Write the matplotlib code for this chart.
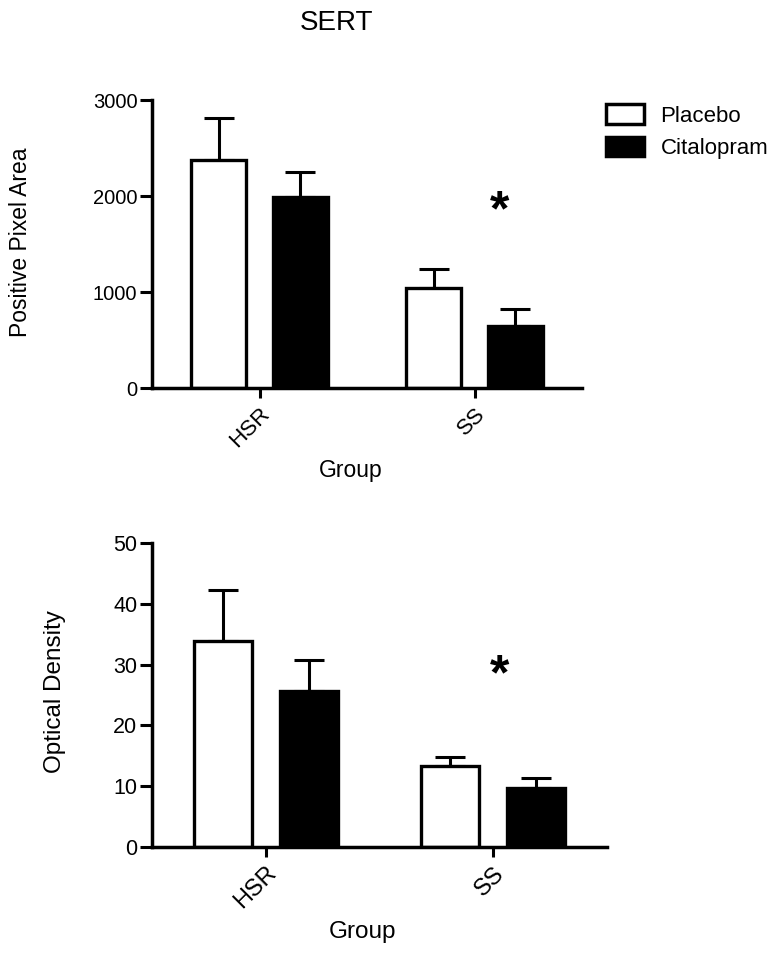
import matplotlib
matplotlib.use("Agg")
import matplotlib.pyplot as plt
from matplotlib.patches import Patch
import numpy as np

plt.rcParams['font.family'] = ['Liberation Sans', 'DejaVu Sans']

groups = ["HSR", "SS"]
series = ["Placebo", "Citalopram"]
area_mean = {"Placebo": [2375, 1045], "Citalopram": [1993, 649]}
area_err = {"Placebo": [440, 195], "Citalopram": [254, 171]}
od_mean = {"Placebo": [33.8, 13.3], "Citalopram": [25.7, 9.75]}
od_err = {"Placebo": [8.5, 1.5], "Citalopram": [5.1, 1.65]}

W, H = 783, 957
fig = plt.figure(figsize=(W / 100, H / 100), dpi=100)

def fx(px):
    return px / W

def fy(py):
    return 1 - py / H

ax1 = fig.add_axes([fx(152), fy(388), fx(582) - fx(152), fy(100) - fy(388)])
ax2 = fig.add_axes([fx(152), fy(847), fx(607) - fx(152), fy(543) - fy(847)])

styles = {"Placebo": dict(facecolor="white", edgecolor="black"),
          "Citalopram": dict(facecolor="black", edgecolor="black")}
offsets = {"Placebo": -0.19, "Citalopram": 0.19}
bw = 0.255
x = np.arange(len(groups))

def draw(ax, means, errs, ylim, yticks, tick_fs, xtick_fs, star_xy):
    for s in series:
        pos = x + offsets[s]
        ax.bar(pos, means[s], width=bw, linewidth=2.4, zorder=3, **styles[s])
        ax.errorbar(pos, means[s], yerr=[np.zeros(len(groups)), errs[s]],
                    fmt='none', ecolor='black', elinewidth=2.2, capsize=10.5,
                    capthick=2.2, zorder=2)
    ax.set_xlim(-0.5, 1.5)
    ax.set_ylim(*ylim)
    ax.set_yticks(yticks)
    ax.set_xticks(x)
    ax.set_xticklabels(groups, rotation=45, ha='right', rotation_mode='anchor',
                       fontsize=xtick_fs)
    ax.tick_params(axis='y', length=8.5, width=2.2, labelsize=tick_fs, pad=2)
    ax.tick_params(axis='x', length=7, width=2.2, pad=4)
    for sp in ['top', 'right']:
        ax.spines[sp].set_visible(False)
    for sp in ['left', 'bottom']:
        ax.spines[sp].set_linewidth(2.5)
    ax.spines['left'].set_zorder(5)
    ax.spines['bottom'].set_zorder(5)
    ax.text(star_xy[0], star_xy[1], "*", fontsize=36, fontweight='bold',
            ha='center', va='center')

draw(ax1, area_mean, area_err, (0, 3000), [0, 1000, 2000, 3000], 14.5, 16, (1.116, 1830))
draw(ax2, od_mean, od_err, (0, 50), [0, 10, 20, 30, 40, 50], 15.5, 17, (1.026, 28.0))

ax1.set_ylabel("Positive Pixel Area", fontsize=16.5)
ax1.yaxis.set_label_coords(fx(32), fy(242), transform=fig.transFigure)
ax2.set_ylabel("Optical Density", fontsize=17.5)
ax2.yaxis.set_label_coords(fx(66), fy(692), transform=fig.transFigure)

ax1.set_xlabel("Group", fontsize=16.5)
ax1.xaxis.set_label_coords(fx(351), fy(459), transform=fig.transFigure)
ax2.set_xlabel("Group", fontsize=17.5)
ax2.xaxis.set_label_coords(fx(362), fy(921), transform=fig.transFigure)

fig.text(fx(337), fy(23), "SERT", ha='center', va='center', fontsize=20)

handles = [Patch(facecolor="white", edgecolor="black", linewidth=2.5, label="Placebo"),
           Patch(facecolor="black", edgecolor="black", linewidth=2.5, label="Citalopram")]
fig.legend(handles=handles, loc='upper left', bbox_to_anchor=(fx(606), fy(104)),
           bbox_transform=fig.transFigure, frameon=False, fontsize=16,
           handlelength=1.7, handleheight=1.0, handletextpad=0.75,
           labelspacing=0.45, borderpad=0, borderaxespad=0)

fig.savefig("out.png", dpi=100)
